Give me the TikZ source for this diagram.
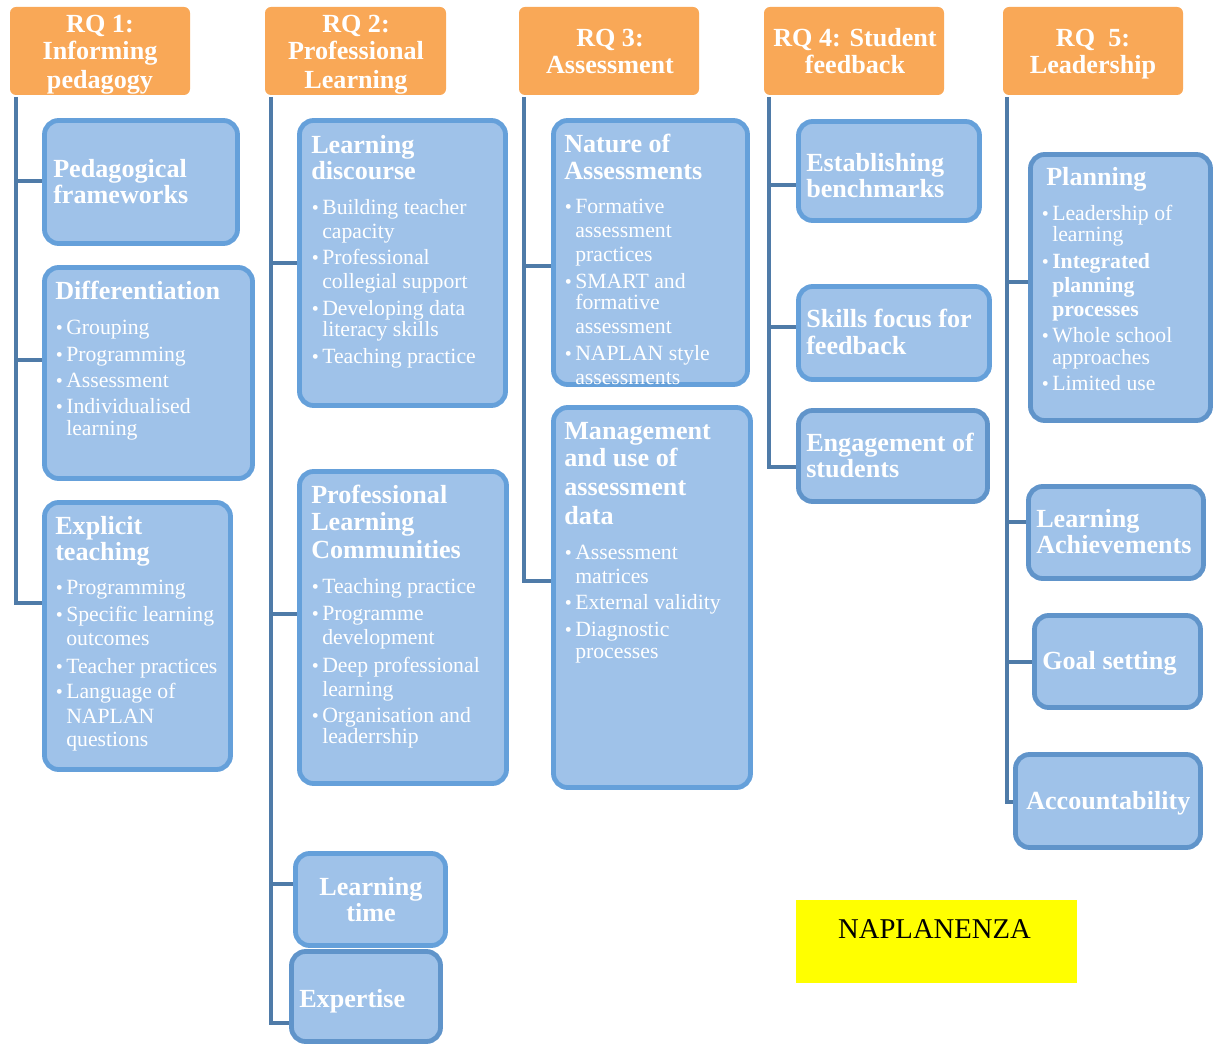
\documentclass[tikz,border=0pt]{standalone}
\usepackage{fontspec}
\setmainfont{Liberation Serif}
\usetikzlibrary{fit}
\definecolor{hdrorange}{RGB}{249,168,87}
\definecolor{boxfill}{RGB}{159,194,233}
\definecolor{boxline}{RGB}{101,160,218}
\definecolor{boxlineb}{RGB}{96,148,202}
\definecolor{trunkblue}{RGB}{79,123,168}
\definecolor{naplan}{RGB}{255,255,0}
\newcommand\bu{\llap{{\fontsize{15}{15}\selectfont\textbullet}\hspace{2.5pt}}}
\newcommand\mkbox[6][boxline]{\node[box, draw=#1, fit={(#3,#4)(#5,#6)}] (#2) {};}
\newcommand\ttllines[3]{\foreach \myy/\mytxt [count=\i] in {#3} {\node[ttl] (#1-t\i) at (#2,\myy) {\mytxt};}}
\newcommand\itmlines[3]{\foreach \myy/\mytxt [count=\i] in {#3} {\node[itm] (#1-b\i) at (#2,\myy) {\mytxt};}}
\begin{document}
\begin{tikzpicture}[x=0.75pt,y=-0.75pt,
  hdr/.style={fill=hdrorange, draw=none, rounded corners=4.5pt, inner sep=0pt},
  htxt/.style={anchor=base, inner sep=0pt, text=white, font=\bfseries\fontsize{19.6}{19.6}\selectfont},
  box/.style={fill=boxfill, line width=3.6pt, rounded corners=10.5pt, inner sep=0pt},
  conn/.style={draw=trunkblue, line width=3pt, line join=miter},
  ttl/.style={anchor=base west, inner sep=0pt, text=white, font=\bfseries\fontsize{19.6}{19.6}\selectfont},
  ttlc/.style={anchor=base, inner sep=0pt, text=white, font=\bfseries\fontsize{19.6}{19.6}\selectfont},
  itm/.style={anchor=base west, inner sep=0pt, text=white, font=\fontsize{16.3}{17}\selectfont}]
\useasboundingbox (0,0) rectangle (1218,1044);

% headers
\node[hdr, fit={(10,7)(190,95)}] (h1) {};
\node[hdr, fit={(265,7)(446,95)}] (h2) {};
\node[hdr, fit={(519,7)(699,95)}] (h3) {};
\node[hdr, fit={(764,7)(944,95)}] (h4) {};
\node[hdr, fit={(1003,7)(1183,95)}] (h5) {};
\node[htxt] (h1-1) at (100,33) {RQ 1:};
\node[htxt] (h1-2) at (100,60) {Informing};
\node[htxt] (h1-3) at (100,89) {pedagogy};
\node[htxt] (h2-1) at (356,33) {RQ 2:};
\node[htxt] (h2-2) at (356,60) {Professional};
\node[htxt] (h2-3) at (356,89) {Learning};
\node[htxt] (h3-1) at (610,47) {RQ 3:};
\node[htxt] (h3-2) at (610,74) {Assessment};
\node[htxt] (h4-1) at (855,47) {RQ 4: Student};
\node[htxt] (h4-2) at (855,74) {feedback};
\node[htxt] (h5-1) at (1093,47) {RQ\ \ 5:};
\node[htxt] (h5-2) at (1093,74) {Leadership};

% boxes
\mkbox{pf}{44.5}{120.5}{237.5}{243.5}
\mkbox{dif}{44.5}{267.5}{252.5}{478.5}
\mkbox{ex}{44.5}{502.5}{230.5}{769.5}
\mkbox{ld}{299.5}{120.5}{505.5}{405.5}
\mkbox{plc}{299.5}{471.5}{506.5}{783.5}
\mkbox{lt}{295.5}{853.5}{445.5}{945.5}
\mkbox[boxlineb]{exp}{291.5}{951.5}{440.5}{1041.5}
\mkbox{na}{553.5}{120.5}{747.5}{384.5}
\mkbox{mg}{553.5}{407.5}{750.5}{787.5}
\mkbox{eb}{798.5}{121.5}{979.5}{220.5}
\mkbox{sf}{798.5}{286.5}{989.5}{379.5}
\mkbox[boxlineb]{eng}{798.5}{410.5}{987.5}{501.5}
\mkbox[boxlineb]{pl}{1030.5}{154.5}{1210.5}{420.5}
\mkbox[boxlineb]{la}{1028.5}{486.5}{1203.5}{578.5}
\mkbox[boxlineb]{gs}{1034.5}{615.5}{1200.5}{707.5}
\mkbox[boxlineb]{acc}{1015.5}{754.5}{1200.5}{847.5}

% trunk coordinates
\coordinate (r1top) at (16,97);
\coordinate (r1a) at (16,181);
\coordinate (r1b) at (16,360);
\coordinate (r1c) at (16,603);
\coordinate (r2top) at (271,97);
\coordinate (r2a) at (271,263);
\coordinate (r2b) at (271,614);
\coordinate (r2c) at (271,884);
\coordinate (r2d) at (271,1023);
\coordinate (r3top) at (524,97);
\coordinate (r3a) at (524,266);
\coordinate (r3b) at (524,581);
\coordinate (r4top) at (769,97);
\coordinate (r4a) at (769,185);
\coordinate (r4b) at (769,327);
\coordinate (r4c) at (769,467);
\coordinate (r5top) at (1007,97);
\coordinate (r5a) at (1007,282);
\coordinate (r5b) at (1007,522);
\coordinate (r5c) at (1007,662);
\coordinate (r5d) at (1007,802);

% connectors
\draw[conn] (r1top) -- (r1c) -- (r1c -| ex.west);
\draw[conn] (r1a) -- (r1a -| pf.west);
\draw[conn] (r1b) -- (r1b -| dif.west);
\draw[conn] (r2top) -- (r2d) -- (r2d -| exp.west);
\draw[conn] (r2a) -- (r2a -| ld.west);
\draw[conn] (r2b) -- (r2b -| plc.west);
\draw[conn] (r2c) -- (r2c -| lt.west);
\draw[conn] (r3top) -- (r3b) -- (r3b -| mg.west);
\draw[conn] (r3a) -- (r3a -| na.west);
\draw[conn] (r4top) -- (r4c) -- (r4c -| eng.west);
\draw[conn] (r4a) -- (r4a -| eb.west);
\draw[conn] (r4b) -- (r4b -| sf.west);
\draw[conn] (r5top) -- (r5d) -- (r5d -| acc.west);
\draw[conn] (r5a) -- (r5a -| pl.west);
\draw[conn] (r5b) -- (r5b -| la.west);
\draw[conn] (r5c) -- (r5c -| gs.west);

% titles
\ttllines{pf}{53}{178/Pedagogical, 204/frameworks}
\ttllines{dif}{55}{300/Differentiation}
\ttllines{ex}{55}{535/Explicit, 561/teaching}
\ttllines{ld}{311}{154/Learning, 180/discourse}
\ttllines{plc}{311}{504/Professional, 531/Learning, 559/Communities}
\node[ttlc] (lt-t1) at (371,895) {Learning};
\node[ttlc] (lt-t2) at (371,921) {time};
\ttllines{exp}{299}{1007/Expertise}
\ttllines{na}{564}{153/Nature of, 180/Assessments}
\ttllines{mg}{564}{440/Management, 467/and use of, 496/assessment, 525/data}
\ttllines{eb}{806}{172/Establishing, 198/benchmarks}
\ttllines{sf}{806}{328/Skills focus for, 355/feedback}
\ttllines{eng}{806}{452/Engagement of, 478/students}
\ttllines{pl}{1046}{186/Planning}
\ttllines{la}{1036}{528/Learning, 554/Achievements}
\ttllines{gs}{1042}{670/Goal setting}
\ttllines{acc}{1026}{809/Accountability}

% bullet items
\itmlines{dif}{66}{335/\bu Grouping, 362/\bu Programming, 388/\bu Assessment, 414/\bu Individualised, 436/learning}
\itmlines{ex}{66}{595/\bu Programming, 622/\bu Specific learning, 646/outcomes, 673/\bu Teacher practices, 699/\bu Language of, 723/NAPLAN, 746/questions}
\itmlines{ld}{322}{215/\bu Building teacher, 239/capacity, 265/\bu Professional, 289/collegial support, 316/\bu Developing data, 337/literacy skills, 364/\bu Teaching practice}
\itmlines{plc}{322}{594/\bu Teaching practice, 621/\bu Programme, 645/development, 672/\bu Deep professional, 696/learning, 722/\bu Organisation and, 744/leaderrship}
\itmlines{na}{575}{214/\bu Formative, 238/assessment, 262/practices, 289/\bu SMART and, 310/formative, 334/assessment, 361/\bu NAPLAN style, 385/assessments}
\itmlines{mg}{575}{560/\bu Assessment, 584/matrices, 610/\bu External validity, 637/\bu Diagnostic, 658/processes}
\itmlines{pl}{1052}{221/\bu Leadership of, 242/learning, 269/\bu\textbf{Integrated}, 293/\textbf{planning}, 317/\textbf{processes}, 343/\bu Whole school, 365/approaches, 391/\bu Limited use}

% NAPLANENZA label
\node[fill=naplan, inner sep=0pt, fit={(796,900)(1077,983)}] (np) {};
\node[anchor=base, inner sep=0pt, font=\fontsize{21.5}{22}\selectfont] (npt) at (934.5,938) {NAPLANENZA};
\end{tikzpicture}
\end{document}
